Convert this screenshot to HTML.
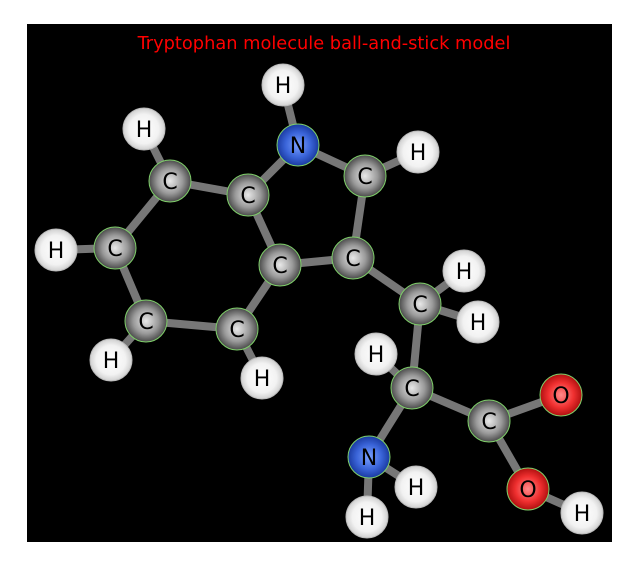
<!DOCTYPE html>
<html><head><meta charset="utf-8"><style>
html,body{margin:0;padding:0;background:#fff;width:640px;height:566px;overflow:hidden}
svg{display:block}
text{font-family:"DejaVu Sans","Liberation Sans",sans-serif}
</style></head><body>
<svg width="640" height="566" viewBox="0 0 640 566">
<defs>
<radialGradient id="gC" cx="50%" cy="50%" r="50%"><stop offset="0" stop-color="#e8e8e8"/><stop offset="0.6" stop-color="#9a9a9a"/><stop offset="1" stop-color="#4a4a4a"/></radialGradient>
<radialGradient id="gH" cx="50%" cy="50%" r="50%"><stop offset="0" stop-color="#ffffff"/><stop offset="0.7" stop-color="#f2f2f2"/><stop offset="1" stop-color="#d0d0d0"/></radialGradient>
<radialGradient id="gN" cx="50%" cy="50%" r="50%"><stop offset="0" stop-color="#7aa0ff"/><stop offset="0.6" stop-color="#3a64d8"/><stop offset="1" stop-color="#1a3aa0"/></radialGradient>
<radialGradient id="gO" cx="50%" cy="50%" r="50%"><stop offset="0" stop-color="#ff8a8a"/><stop offset="0.6" stop-color="#f03030"/><stop offset="1" stop-color="#b01010"/></radialGradient>
</defs>
<rect x="27" y="24" width="585" height="518" fill="#000"/>
<text x="324" y="49" fill="#ff0000" font-size="17.8" text-anchor="middle">Tryptophan molecule ball-and-stick model</text>
<g stroke="#777" stroke-width="8">
<line x1="283" y1="85" x2="298" y2="145"/>
<line x1="298" y1="145" x2="248" y2="195"/>
<line x1="298" y1="145" x2="365" y2="176"/>
<line x1="365" y1="176" x2="418" y2="152"/>
<line x1="365" y1="176" x2="353" y2="258"/>
<line x1="248" y1="195" x2="170" y2="181"/>
<line x1="248" y1="195" x2="280" y2="265"/>
<line x1="170" y1="181" x2="144" y2="129"/>
<line x1="170" y1="181" x2="115" y2="248"/>
<line x1="115" y1="248" x2="56" y2="250"/>
<line x1="115" y1="248" x2="146" y2="321"/>
<line x1="146" y1="321" x2="111" y2="360"/>
<line x1="146" y1="321" x2="237" y2="329"/>
<line x1="237" y1="329" x2="262" y2="378"/>
<line x1="237" y1="329" x2="280" y2="265"/>
<line x1="280" y1="265" x2="353" y2="258"/>
<line x1="353" y1="258" x2="420" y2="304"/>
<line x1="420" y1="304" x2="464" y2="271"/>
<line x1="420" y1="304" x2="478" y2="322"/>
<line x1="420" y1="304" x2="412" y2="388"/>
<line x1="412" y1="388" x2="376" y2="354"/>
<line x1="412" y1="388" x2="369" y2="457"/>
<line x1="412" y1="388" x2="489" y2="421"/>
<line x1="489" y1="421" x2="561" y2="395"/>
<line x1="489" y1="421" x2="528" y2="489"/>
<line x1="528" y1="489" x2="582" y2="513"/>
<line x1="369" y1="457" x2="416" y2="487"/>
<line x1="369" y1="457" x2="367" y2="517"/>
</g>
<g font-size="22" text-anchor="middle" fill="#000">
<g stroke-width="1">
<g fill="url(#gH)" stroke="#bbb">
<circle cx="283" cy="85" r="21"/><circle cx="144" cy="129" r="21"/><circle cx="418" cy="152" r="21"/>
<circle cx="56" cy="250" r="21"/><circle cx="111" cy="360" r="21"/><circle cx="262" cy="378" r="21"/>
<circle cx="464" cy="271" r="21"/><circle cx="478" cy="322" r="21"/><circle cx="376" cy="354" r="21"/>
<circle cx="416" cy="487" r="21"/><circle cx="367" cy="517" r="21"/><circle cx="582" cy="513" r="21"/>
</g>
<g fill="url(#gC)" stroke="#7fd06a">
<circle cx="170" cy="181" r="21"/><circle cx="248" cy="195" r="21"/><circle cx="365" cy="176" r="21"/>
<circle cx="115" cy="248" r="21"/><circle cx="280" cy="265" r="21"/><circle cx="353" cy="258" r="21"/>
<circle cx="146" cy="321" r="21"/><circle cx="237" cy="329" r="21"/><circle cx="420" cy="304" r="21"/>
<circle cx="412" cy="388" r="21"/><circle cx="489" cy="421" r="21"/>
</g>
<g fill="url(#gN)" stroke="#7fd06a"><circle cx="298" cy="145" r="21"/><circle cx="369" cy="457" r="21"/></g>
<g fill="url(#gO)" stroke="#7fd06a"><circle cx="561" cy="395" r="21"/><circle cx="528" cy="489" r="21"/></g>
</g>
<text x="283" y="93">H</text><text x="144" y="137">H</text><text x="418" y="160">H</text>
<text x="56" y="258">H</text><text x="111" y="368">H</text><text x="262" y="386">H</text>
<text x="464" y="279">H</text><text x="478" y="330">H</text><text x="376" y="362">H</text>
<text x="416" y="495">H</text><text x="367" y="525">H</text><text x="582" y="521">H</text>
<text x="170" y="189">C</text><text x="248" y="203">C</text><text x="365" y="184">C</text>
<text x="115" y="256">C</text><text x="280" y="273">C</text><text x="353" y="266">C</text>
<text x="146" y="329">C</text><text x="237" y="337">C</text><text x="420" y="312">C</text>
<text x="412" y="396">C</text><text x="489" y="429">C</text>
<text x="298" y="153">N</text><text x="369" y="465">N</text>
<text x="561" y="403">O</text><text x="528" y="497">O</text>
</g>
</svg>
</body></html>
